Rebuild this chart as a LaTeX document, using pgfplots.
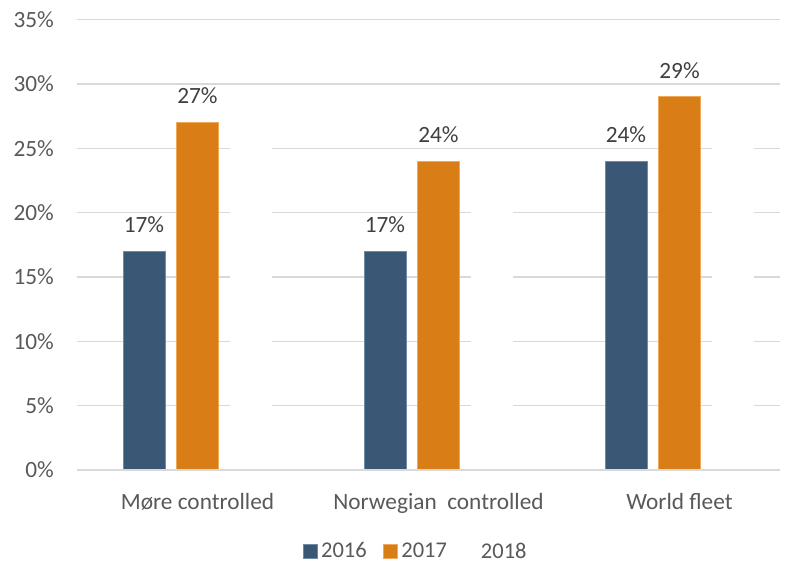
\documentclass[border=0pt]{standalone}
\usepackage{pgfplots}
\pgfplotsset{compat=1.18}
\usepackage{fontspec}
\setmainfont{Carlito}

\definecolor{c2016}{HTML}{3A5775}
\definecolor{c2016edge}{HTML}{6F8BA8}
\definecolor{c2017}{HTML}{D97E17}
\definecolor{c2017edge}{HTML}{EFA95A}
\definecolor{gridgray}{HTML}{D9D9D9}
\definecolor{labelgray}{HTML}{595959}
\definecolor{valuegray}{HTML}{404040}

\newcommand{\chartfont}{\fontsize{23.3bp}{27bp}\selectfont}
\newcommand{\legendfont}{\fontsize{22.5bp}{26bp}\selectfont}

\pgfplotsset{
  sqlegend/.style={
    legend image code/.code={\fill[##1] (0bp,-7bp) rectangle (14bp,7bp);}
  },
}

\begin{document}
\begin{tikzpicture}
\begin{axis}[
  at={(0,0)}, anchor=south west,
  scale only axis, width=703bp, height=450.5bp,
  ybar, bar width=0.174,
  xmin=-0.5, xmax=2.417, ymin=0, ymax=35,
  axis line style={draw=none},
  major tick length=0pt,
  ytick={0,5,10,15,20,25,30,35},
  yticklabels={0\%,5\%,10\%,15\%,20\%,25\%,30\%,35\%},
  ymajorgrids,
  grid style={gridgray, line width=1.3bp},
  xtick={0,1,2},
  xticklabels={M\o re controlled, Norwegian\ \ controlled, World fleet},
  ticklabel style={font=\chartfont, text=labelgray, inner sep=0pt},
  yticklabel style={anchor=east, xshift=-23bp},
  xticklabel style={anchor=base, yshift=-39.5bp},
  nodes near coords style={font=\chartfont, text=valuegray, anchor=south, inner sep=0pt, yshift=18bp},
  legend columns=3,
  legend style={
    at={(0.483,-0.18)}, anchor=center,
    draw=none, fill=none, inner sep=0pt, outer sep=0pt,
    font=\legendfont, text=labelgray,
    nodes={inner xsep=3.5bp, inner ysep=0pt},
    /tikz/every even column/.append style={column sep=13bp},
  },
]
% 2016
\addplot[sqlegend, bar shift=-0.222, fill=c2016, draw=c2016edge, line width=0.6bp,
  nodes near coords={\pgfmathprintnumber[assume math mode=true]{\pgfplotspointmeta}\%}]
  coordinates {(0,17) (1,17) (2,24)};
% 2017
\addplot[sqlegend, bar shift=0, fill=c2017, draw=c2017edge, line width=0.6bp,
  nodes near coords={\pgfmathprintnumber[assume math mode=true]{\pgfplotspointmeta}\%}]
  coordinates {(0,27) (1,24) (2,29)};
% 2018 (white bars)
\addplot[sqlegend, bar shift=0.222, fill=white, draw=none]
  coordinates {(0,25) (1,22) (2,27)};
% baseline at 0% drawn over the bars
\addplot[sharp plot, gridgray, line width=1.3bp, forget plot]
  coordinates {(-0.5,0) (2.417,0)};
\legend{2016,2017,2018}
\end{axis}
\pgfresetboundingbox
\useasboundingbox (-77bp,-96bp) rectangle (713bp,470bp);
\end{tikzpicture}
\end{document}
